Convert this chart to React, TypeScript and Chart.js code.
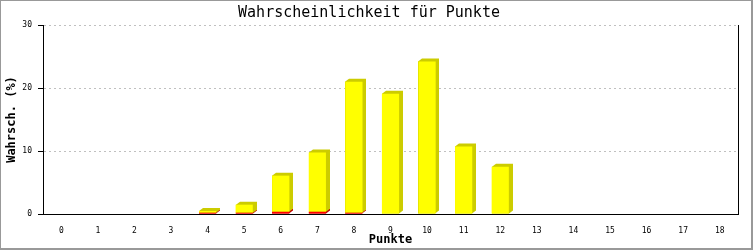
import React, { useEffect, useRef } from "react";
import { Chart, registerables } from "chart.js";

Chart.register(...registerables);

const categories = ["0", "1", "2", "3", "4", "5", "6", "7", "8", "9", "10", "11", "12", "13", "14", "15", "16", "17", "18"];
const redValues = [0, 0, 0, 0, 0.2, 0.2, 0.35, 0.35, 0.2, 0, 0, 0, 0, 0, 0, 0, 0, 0, 0];
const yellowValues = [0, 0, 0, 0, 0.28, 1.28, 5.74, 9.4, 20.8, 19.1, 24.2, 10.7, 7.5, 0, 0, 0, 0, 0, 0];
const yTickValues = [0, 10, 20, 30];

const titleText = "Wahrscheinlichkeit für Punkte";
const xTitle = "Punkte";
const yTitle = "Wahrsch. (%)";

const MONO = "'DejaVu Sans Mono', monospace";
const SHADOW_COLORS = ["#c00000", "#cccc00"];
const DX = 4;
const DY = 3;

const shadowPlugin = {
  id: "barShadow",
  beforeDatasetsDraw(chart: any) {
    const ctx = chart.ctx;
    ctx.save();
    chart.data.datasets.forEach((_ds: any, i: number) => {
      const meta = chart.getDatasetMeta(i);
      ctx.fillStyle = SHADOW_COLORS[i];
      meta.data.forEach((bar: any) => {
        const { x, y, base, width } = bar.getProps(["x", "y", "base", "width"], true);
        const h = base - y;
        if (h <= 0.3) return;
        const x0 = Math.round(x - width / 2);
        const x1 = x0 + Math.round(width);
        ctx.beginPath();
        ctx.moveTo(x0, y);
        ctx.lineTo(x0 + DX, y - DY);
        ctx.lineTo(x1 + DX, y - DY);
        ctx.lineTo(x1 + DX, base - DY);
        ctx.lineTo(x1, base);
        ctx.lineTo(x0, base);
        ctx.closePath();
        ctx.fill();
      });
    });
    ctx.restore();
  },
  afterDraw(chart: any) {
    const ctx = chart.ctx;
    const { right, top, bottom } = chart.chartArea;
    ctx.save();
    ctx.strokeStyle = "#000";
    ctx.lineWidth = 1;
    ctx.beginPath();
    ctx.moveTo(Math.round(right) + 0.5, top);
    ctx.lineTo(Math.round(right) + 0.5, bottom + 0.5);
    ctx.stroke();
    ctx.fillStyle = "#999999";
    const W = chart.width;
    const H = chart.height;
    ctx.fillRect(0, 0, W, 1);
    ctx.fillRect(0, 0, 1, H);
    ctx.fillRect(W - 2, 0, 2, H);
    ctx.fillRect(0, H - 2, W, 2);
    ctx.restore();
  },
};

export default function App() {
  const ref = useRef<HTMLCanvasElement | null>(null);

  useEffect(() => {
    document.body.style.margin = "0";
    if (!ref.current) return;
    const chart = new Chart(ref.current, {
      type: "bar",
      data: {
        labels: categories,
        datasets: [
          {
            label: "rot",
            data: redValues,
            backgroundColor: "#ff0000",
            borderWidth: 0,
            categoryPercentage: 1,
            barPercentage: 0.47,
          },
          {
            label: "gelb",
            data: yellowValues,
            backgroundColor: "#ffff00",
            borderWidth: 0,
            categoryPercentage: 1,
            barPercentage: 0.47,
          },
        ],
      },
      options: {
        animation: false,
        responsive: false,
        devicePixelRatio: 1,
        layout: { padding: { left: 0, right: 15, top: 0, bottom: 0 } },
        plugins: {
          legend: { display: false },
          tooltip: { enabled: false },
          title: {
            display: true,
            text: titleText,
            color: "#000",
            font: { family: MONO, size: 15, weight: "normal" },
            padding: { top: 4, bottom: 3 },
          },
        },
        scales: {
          x: {
            stacked: true,
            offset: true,
            grid: { display: false },
            border: { display: true, color: "#000", width: 1 },
            ticks: {
              color: "#000",
              font: { family: MONO, size: 8 },
              padding: 4,
              maxRotation: 0,
              autoSkip: false,
            },
            title: {
              display: true,
              text: xTitle,
              color: "#000",
              font: { family: MONO, size: 12, weight: "bold" },
              padding: { top: 0, bottom: 3 },
            },
            afterFit(scale: any) {
              scale.height = 36;
            },
          },
          y: {
            stacked: true,
            min: 0,
            max: 30,
            afterBuildTicks(scale: any) {
              scale.ticks = yTickValues.map((v) => ({ value: v }));
            },
            grid: {
              color: (ctx: any) => (ctx.tick && ctx.tick.value === 0 ? "rgba(0,0,0,0)" : "#c0c0c0"),
              tickColor: "#000",
              tickLength: 5,
              lineWidth: 1,
              borderDash: [2, 3],
              tickBorderDash: [],
            } as any,
            border: { display: true, color: "#000", width: 1, dash: [2, 3] },
            ticks: {
              color: "#000",
              font: { family: MONO, size: 8 },
              padding: 6,
            },
            title: {
              display: true,
              text: yTitle,
              color: "#000",
              font: { family: MONO, size: 12, weight: "bold" },
              padding: { top: 5, bottom: 0 },
            },
            afterFit(scale: any) {
              scale.width = 43;
            },
          },
        },
      },
      plugins: [shadowPlugin],
    } as any);
    return () => chart.destroy();
  }, []);

  return (
    <div style={{ width: 753, height: 250 }}>
      <canvas ref={ref} width={753} height={250} style={{ display: "block", width: 753, height: 250 }} />
    </div>
  );
}
